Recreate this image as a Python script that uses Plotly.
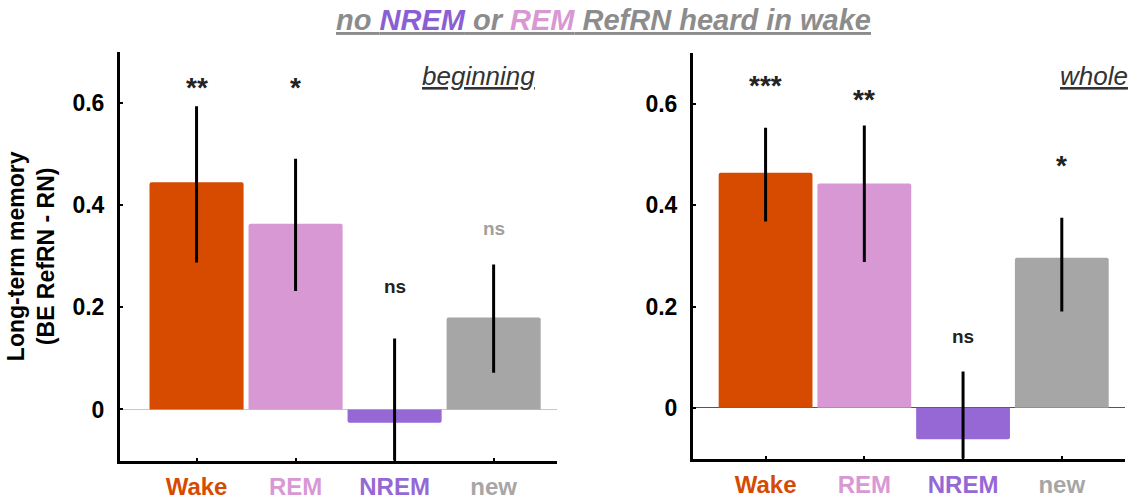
import plotly.graph_objects as go

# Sleep-stage groups and their colours
groups = ["Wake", "REM", "NREM", "new"]
group_colors = ["#D64B00", "#D898D4", "#9568D6", "#A6A6A6"]

# Panel "beginning": means and error-bar limits
begin_mean = [0.445, 0.364, -0.026, 0.180]
begin_upper = [0.594, 0.491, 0.139, 0.284]
begin_lower = [0.288, 0.232, -0.190, 0.072]
begin_sig = ["**", "*", "ns", "ns"]
begin_sig_y = [0.640, 0.640, 0.240, 0.354]
begin_sig_colors = ["#222222", "#222222", "#222222", "#A0A0A0"]

# Panel "whole": means and error-bar limits
whole_mean = [0.464, 0.443, -0.062, 0.296]
whole_upper = [0.553, 0.557, 0.072, 0.375]
whole_lower = [0.368, 0.288, -0.196, 0.190]
whole_sig = ["***", "**", "ns", "*"]
whole_sig_y = [0.646, 0.619, 0.141, 0.489]
whole_sig_colors = ["#222222", "#222222", "#222222", "#222222"]

y_ticks = [0, 0.2, 0.4, 0.6]
y_tick_text = ["0", "0.2", "0.4", "0.6"]

FONT = "Liberation Sans, Arial, sans-serif"
W, H = 1138, 500

fig = go.Figure()


def add_panel(mean, upper, lower, xa, ya):
    fig.add_trace(go.Bar(
        x=groups,
        y=mean,
        width=0.95,
        marker=dict(color=group_colors, line=dict(width=0), cornerradius=2),
        error_y=dict(
            type="data",
            symmetric=False,
            array=[u - m for u, m in zip(upper, mean)],
            arrayminus=[m - l for m, l in zip(mean, lower)],
            color="black",
            thickness=3,
            width=0,
        ),
        xaxis=xa,
        yaxis=ya,
        showlegend=False,
        hoverinfo="skip",
    ))


add_panel(begin_mean, begin_upper, begin_lower, "x", "y")
add_panel(whole_mean, whole_upper, whole_lower, "x2", "y2")

tick_text = [
    f"<span style='color:{c}'><b>{g}</b></span>" for g, c in zip(groups, group_colors)
]

x_common = dict(
    type="category",
    categoryorder="array",
    categoryarray=groups,
    tickmode="array",
    tickvals=groups,
    ticktext=tick_text,
    showline=True,
    linecolor="black",
    linewidth=3,
    ticks="inside",
    ticklen=3,
    tickwidth=2,
    tickcolor="black",
    showgrid=False,
    zeroline=False,
    tickfont=dict(family=FONT, size=24),
    ticklabelstandoff=3,
    fixedrange=True,
)
y_common = dict(
    range=[-0.1, 0.7],
    tickmode="array",
    tickvals=y_ticks,
    ticktext=y_tick_text,
    showline=True,
    linecolor="black",
    linewidth=3,
    ticks="inside",
    ticklen=3,
    tickwidth=1.5,
    tickcolor="black",
    showgrid=False,
    tickfont=dict(family=FONT, size=23, color="black", weight="bold"),
    ticklabelstandoff=8,
    zerolinewidth=1,
    fixedrange=True,
)

fig.update_layout(
    width=W,
    height=H,
    margin=dict(l=0, r=0, t=0, b=0),
    paper_bgcolor="white",
    plot_bgcolor="white",
    bargap=0.05,
    xaxis=dict(x_common, domain=[120 / W, 557 / W], range=[-0.773, 3.64], anchor="y"),
    yaxis=dict(
        y_common,
        domain=[1 - 468 / H, 1 - 53 / H],
        anchor="x",
        zeroline=True,
        zerolinecolor="#C8C8C8",
        title=dict(
            text="<b>Long-term memory<br>(BE RefRN - RN)</b>",
            font=dict(family=FONT, size=23, color="black"),
            standoff=12,
        ),
    ),
    xaxis2=dict(x_common, domain=[693 / W, 1125 / W], range=[-0.735, 3.64], anchor="y2"),
    yaxis2=dict(
        y_common,
        domain=[1 - 466 / H, 1 - 54 / H],
        anchor="x2",
        zeroline=True,
        zerolinecolor="#555555",
    ),
)

annotations = []
for g, s, sy, c in zip(groups, begin_sig, begin_sig_y, begin_sig_colors):
    annotations.append(dict(
        x=g, y=sy, xref="x", yref="y", text=f"<b>{s}</b>", showarrow=False,
        font=dict(family=FONT, size=28 if s != "ns" else 19, color=c),
        xanchor="center", yanchor="middle",
        yshift=-5 if s != "ns" else 0,
    ))
for g, s, sy, c in zip(groups, whole_sig, whole_sig_y, whole_sig_colors):
    annotations.append(dict(
        x=g, y=sy, xref="x2", yref="y2", text=f"<b>{s}</b>", showarrow=False,
        font=dict(family=FONT, size=28 if s != "ns" else 19, color=c),
        xanchor="center", yanchor="middle",
        yshift=-5 if s != "ns" else 0,
    ))

# Panel labels
annotations.append(dict(
    x=478 / W, y=1 - 77 / H, xref="paper", yref="paper",
    text="<i><u>beginning</u></i>", showarrow=False,
    font=dict(family=FONT, size=26, color="#333333"),
    xanchor="center", yanchor="middle",
))
annotations.append(dict(
    x=1094 / W, y=1 - 77 / H, xref="paper", yref="paper",
    text="<i><u>whole</u></i>", showarrow=False,
    font=dict(family=FONT, size=26, color="#333333"),
    xanchor="center", yanchor="middle",
))

# Figure heading with coloured sleep-stage names
annotations.append(dict(
    x=603 / W, y=1 - 20 / H, xref="paper", yref="paper",
    text=(
        "<b><i><u>no <span style='color:#8A5FD6'>NREM</span> or "
        "<span style='color:#D898D4'>REM</span> RefRN heard in wake</u></i></b>"
    ),
    showarrow=False,
    font=dict(family=FONT, size=29, color="#8C8C8C"),
    xanchor="center", yanchor="middle",
))

fig.update_layout(annotations=annotations)

fig.write_html("out.html", config={"displayModeBar": False})
